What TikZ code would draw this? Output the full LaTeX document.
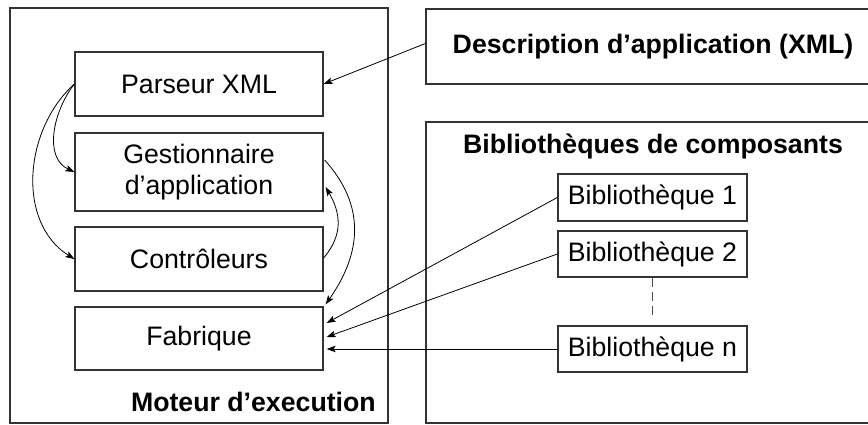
\documentclass[tikz,border=0pt]{standalone}
\usepackage{fontspec}
\setmainfont{Liberation Sans}
\usetikzlibrary{arrows.meta,calc}
\begin{document}
\begin{tikzpicture}[x=1pt,y=1pt,
  box/.style={draw=black!80, line width=1.3pt, inner sep=0pt, align=center,
    font=\fontsize{26.7}{31}\selectfont},
  frame/.style={draw=black!80, line width=1.3pt, inner sep=0pt},
  bold/.style={inner sep=0pt, font=\fontsize{26.7}{31}\selectfont\bfseries},
  arr/.style={-{Stealth[length=9pt,width=6.5pt,inset=2pt]}, line width=0.8pt}]
\clip (0,0) rectangle (868,425);
\fill[white] (0,0) rectangle (868,425);
% frames
\node[frame, minimum width=378pt, minimum height=415pt] (moteur) at (199,209.5) {};
\node[frame, minimum width=454pt, minimum height=75pt] (desc) at (653,378.5) {};
\node[bold] (desctxt) at (653,378.5) {Description d’application (XML)};
\node[frame, minimum width=454pt, minimum height=301pt] (biblio) at (653,152.5) {};
\node[bold, anchor=base] (bibtitle) at (653,271) {Bibliothèques de composants};
\node[bold, anchor=base east] (motlabel) at (376,13) {Moteur d’execution};
% left boxes
\node[box, minimum width=248pt, minimum height=64pt] (parseur) at (199,341) {Parseur XML};
\node[box, minimum width=248pt, minimum height=78pt] (gest) at (199,253) {Gestionnaire\\d’application};
\node[box, minimum width=248pt, minimum height=64pt] (ctrl) at (199,166) {Contrôleurs};
\node[box, minimum width=248pt, minimum height=63pt] (fab) at (199,86.5) {Fabrique};
% libraries
\node[box, minimum width=189pt, minimum height=47pt] (b1) at (652.5,227.5) {Bibliothèque 1};
\node[box, minimum width=189pt, minimum height=46pt] (b2) at (652.5,171) {Bibliothèque 2};
\node[box, minimum width=189pt, minimum height=46pt] (bn) at (652.5,76) {Bibliothèque n};
\coordinate (dashend) at (652.5,107);
\draw[black!70, line width=1pt, dash pattern=on 9pt off 5pt] (b2.south) -- (dashend);
% connectors
\draw[arr] ($(desc.west)+(0,3)$) -- (parseur.east);
\draw[arr] (parseur.west) to[out=232, in=155] (gest.west);
\draw[arr] (parseur.west) to[out=222, in=148] (ctrl.west);
\draw[arr] ($(gest.east)+(1,12)$) to[out=-48, in=55, looseness=1.1] ($(fab.north east)+(2,2)$);
\draw[arr] ($(ctrl.east)+(0,1)$) to[out=50, in=-60, looseness=1.1] ($(gest.east)+(2,-15)$);
\draw[arr] (b1.west) -- ($(fab.east)+(3,15.5)$);
\draw[arr] (b2.west) -- ($(fab.east)+(3,1.5)$);
\draw[arr] (bn.west) -- ($(bn.west -| fab.east)+(3,0)$);
\end{tikzpicture}
\end{document}
